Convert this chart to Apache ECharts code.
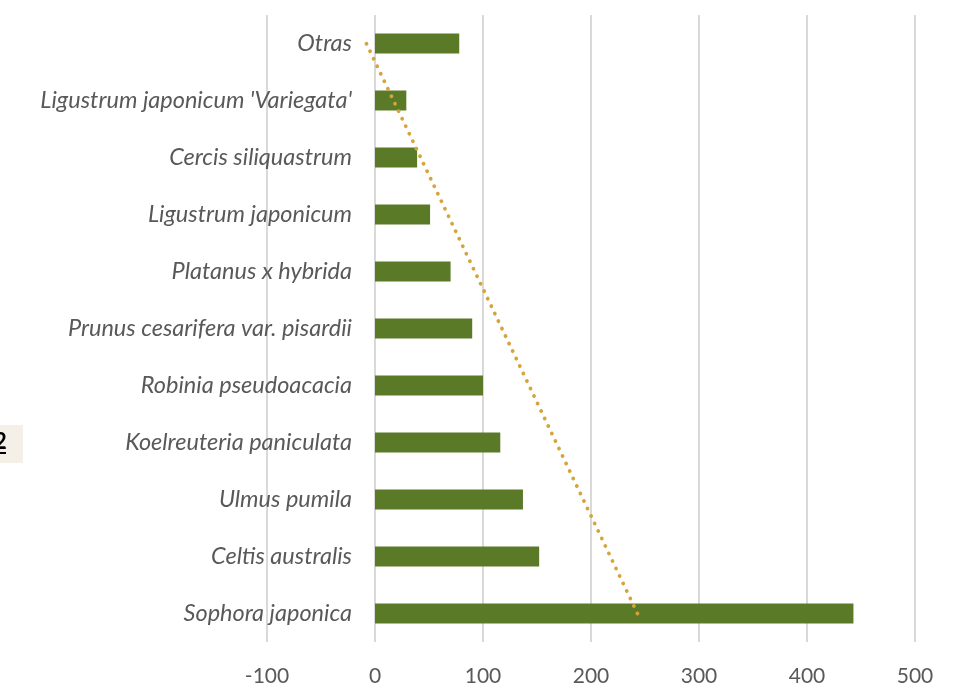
<!DOCTYPE html>
<html>
<head>
<meta charset="utf-8">
<script src="https://cdn.jsdelivr.net/npm/echarts@6/dist/echarts.min.js"></script>
<style>
html,body{margin:0;padding:0;background:#fff;}
#chart{width:963px;height:688px;}
</style>
</head>
<body>
<div id="chart"></div>
<script>
// Categories bottom to top (as drawn)
const categories = [
  "Sophora japonica",
  "Celtis australis",
  "Ulmus pumila",
  "Koelreuteria paniculata",
  "Robinia pseudoacacia",
  "Prunus cesarifera var. pisardii",
  "Platanus x hybrida",
  "Ligustrum japonicum",
  "Cercis siliquastrum",
  "Ligustrum japonicum 'Variegata'",
  "Otras"
];
const values = [443, 152, 137, 116, 100, 90, 70, 51, 39, 29, 78];
// Linear trendline end points (bottom, top)
const trendStart = 243;
const trendEnd = -8;
const xTicks = [-100, 0, 100, 200, 300, 400, 500];

const trendData = categories.map((c, i) =>
  i === 0 ? trendStart : (i === categories.length - 1 ? trendEnd : null));

const chart = echarts.init(document.getElementById('chart'));
chart.setOption({
  animation: false,
  grid: {left: 267, right: 48, top: 15, bottom: 46, containLabel: false, outerBoundsMode: 'none'},
  xAxis: {
    type: 'value',
    min: xTicks[0], max: xTicks[xTicks.length - 1], interval: 100,
    axisLine: {show: false},
    axisTick: {show: false},
    splitLine: {lineStyle: {color: '#d9d9d9', width: 2}},
    axisLabel: {color: '#595959', fontSize: 21, fontFamily: 'Lato', margin: 24}
  },
  yAxis: {
    type: 'category',
    data: categories,
    offset: -108,
    axisLine: {show: false, onZero: false},
    axisTick: {show: false},
    axisLabel: {color: '#595959', fontSize: 23.5, fontStyle: 'italic', fontFamily: 'Lato', margin: 23}
  },
  series: [
    {
      type: 'bar',
      data: values,
      barWidth: 20,
      itemStyle: {color: '#5b7a28'}
    },
    {
      type: 'line',
      data: trendData,
      connectNulls: true,
      symbol: 'none',
      lineStyle: {color: '#d4a53a', width: 3.8, type: [0.1, 8.2], cap: 'round'},
      z: 5
    }
  ],
  graphic: [
    {type: 'rect', left: 0, top: 425, shape: {width: 23, height: 38}, style: {fill: '#f4f0e8'}},
    {type: 'text', left: -6, top: 431, style: {text: '2', font: 'bold 22px Lato', fill: '#000'}},
    {type: 'rect', left: 0, top: 452, shape: {width: 6, height: 2}, style: {fill: '#000'}}
  ]
});
</script>
</body>
</html>
